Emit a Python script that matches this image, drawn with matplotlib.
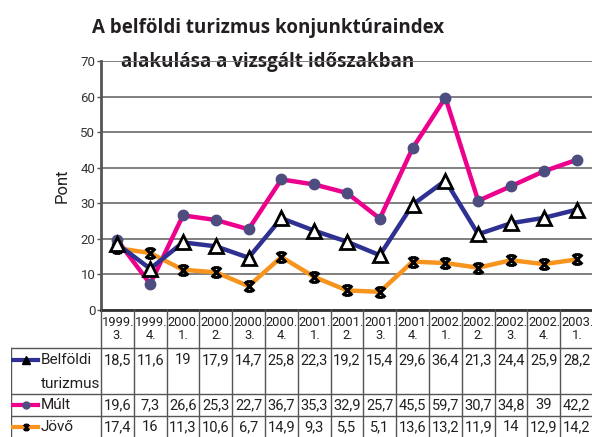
import numpy as np
import matplotlib.pyplot as plt
from matplotlib.path import Path

periods = ["1999.\n3.", "1999.\n4.", "2000.\n1.", "2000.\n2.", "2000.\n3.", "2000.\n4.",
           "2001.\n1.", "2001.\n2.", "2001.\n3.", "2001.\n4.", "2002.\n1.", "2002.\n2.",
           "2002.\n3.", "2002.\n4.", "2003.\n1."]
belfoldi = [18.5, 11.6, 19, 17.9, 14.7, 25.8, 22.3, 19.2, 15.4, 29.6, 36.4, 21.3, 24.4, 25.9, 28.2]
mult = [19.6, 7.3, 26.6, 25.3, 22.7, 36.7, 35.3, 32.9, 25.7, 45.5, 59.7, 30.7, 34.8, 39, 42.2]
jovo = [17.4, 16, 11.3, 10.6, 6.7, 14.9, 9.3, 5.5, 5.1, 13.6, 13.2, 11.9, 14, 12.9, 14.2]
series_names = ["Belföldi\nturizmus", "Múlt", "Jövő"]
yticks = [0, 10, 20, 30, 40, 50, 60, 70]

c_blue = "#2E3192"
c_pink = "#EC008C"
c_orange = "#F7941E"
c_dot = "#4D4D80"
txt = "#231F20"

plt.rcParams['font.family'] = ['Roboto', 'DejaVu Sans']

star = Path([(-1, -1), (1, 1), (-1, 1), (1, -1), (-0.6, 1), (0.6, 1), (-0.6, -1), (0.6, -1)],
            [Path.MOVETO, Path.LINETO] * 4)

W, H = 592, 437
fig = plt.figure(figsize=(W / 100, H / 100), dpi=100)
ax = fig.add_axes([101 / W, 1 - 310 / H, 492 / W, 249 / H])
x = np.arange(len(periods))

ax.plot(x, mult, color=c_pink, lw=3.2, marker='o', ms=7.5, mfc=c_dot, mec=c_dot, zorder=3)
ax.plot(x, belfoldi, color=c_blue, lw=3.2, marker='^', ms=9.5, mfc='white', mec='black', mew=2, zorder=4)
ax.plot(x, jovo, color=c_orange, lw=3.2, marker=star, ms=7, mec='black', mew=2.2, zorder=3)

ax.set_xlim(-0.5, len(periods) - 0.5)
ax.set_ylim(0, 70)
ax.set_yticks(yticks)
ax.set_yticklabels([str(t) for t in yticks], fontsize=9.5, color='#333333')
ax.set_xticks([])
ax.grid(axis='y', color='#808080', lw=1.4)
for s in ['top', 'right']:
    ax.spines[s].set_visible(False)
ax.spines['left'].set_color('#555555')
ax.spines['left'].set_linewidth(2)
ax.spines['bottom'].set_color('#333333')
ax.spines['bottom'].set_linewidth(2)
ax.tick_params(axis='y', length=3, width=1, color='#555555', pad=1)
ax.set_ylabel("Pont", fontsize=12, color=txt, labelpad=8)
ax.set_axisbelow(True)

# title; second line sits under the 70 gridline like in the original
tfont = dict(ha='center', va='baseline', fontsize=13.5, fontweight='bold', color=txt,
             family=['Open Sans', 'DejaVu Sans'])
fig.text(268 / W, 1 - 33 / H, "A belföldi turizmus konjunktúraindex", **tfont)
ax.text(268 / W, 1 - 67 / H, "alakulása a vizsgált időszakban", transform=fig.transFigure,
        clip_on=False, zorder=0.1, **tfont)

# table below the plot
lab_w = 90 / 32.8
tx = fig.add_axes([11 / W, 0, 582 / W, 1 - 309 / H])
tx.set_xlim(-0.5 - lab_w, len(periods) - 0.5)
rows = [0, 39, 85, 107, 129]
tx.set_ylim(128, 0)
tx.axis('off')
lc = '#555555'
for r in rows[1:4]:
    tx.plot([-0.5 - lab_w, len(periods) - 0.5], [r, r], color=lc, lw=1)
for i in range(len(periods) + 1):
    tx.plot([i - 0.5, i - 0.5], [0, 129], color=lc, lw=1)
tx.plot([-0.5 - lab_w] * 2, [rows[1], 129], color=lc, lw=1)

for i, p in enumerate(periods):
    tx.text(i + 0.02, 20, p, ha='center', va='center', fontsize=9.3, linespacing=1.0, color=txt)

data = [belfoldi, mult, jovo]
colors = [c_blue, c_pink, c_orange]
text_y = [rows[1] + 12, rows[2] + 11, rows[3] + 11]
mk = [dict(marker='^', ms=6, mfc='black', mec='black'),
      dict(marker='o', ms=5, mfc=c_dot, mec=c_dot),
      dict(marker=star, ms=4, mec='black', mew=1.6)]
for vals, name, col, ty, m in zip(data, series_names, colors, text_y, mk):
    x0 = -0.5 - lab_w + 2 / 32.8
    x1 = x0 + 25 / 32.8
    tx.plot([x0, x1], [ty, ty], color=col, lw=3)
    tx.plot([(x0 + x1) / 2], [ty], **m)
    parts = name.split('\n')
    tx.text(x1 + 3 / 32.8, ty, parts[0], ha='left', va='center', fontsize=11, color=txt)
    if len(parts) > 1:
        tx.text(x1 + 3 / 32.8, ty + 24, parts[1], ha='left', va='center', fontsize=11, color=txt)
    for i, v in enumerate(vals):
        s = ("%g" % v).replace('.', ',')
        tx.text(i, ty, s, ha='center', va='center', fontsize=10.5, color=txt)

fig.savefig("out.png", dpi=100)
